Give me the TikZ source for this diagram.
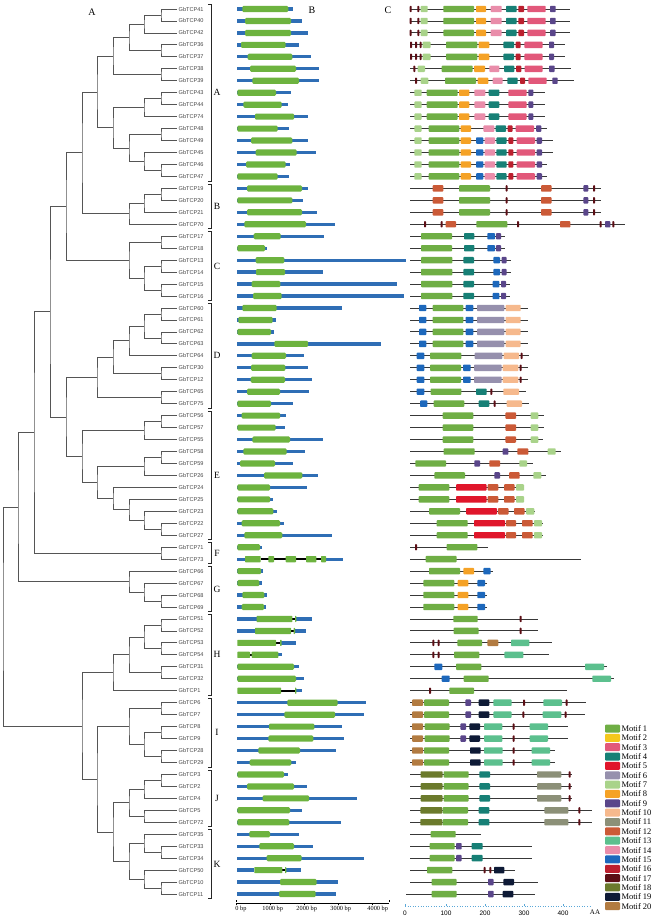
\documentclass[tikz,border=0pt]{standalone}
\usepackage{fontspec}
\setmainfont{Liberation Serif}
\setsansfont{Liberation Sans}
\usetikzlibrary{calc}
\definecolor{m1}{HTML}{6FAE45}
\definecolor{m2}{HTML}{F4C81C}
\definecolor{m3}{HTML}{E2587A}
\definecolor{m4}{HTML}{178076}
\definecolor{m5}{HTML}{E0162B}
\definecolor{m6}{HTML}{9690AD}
\definecolor{m7}{HTML}{A9D38A}
\definecolor{m8}{HTML}{F5A226}
\definecolor{m9}{HTML}{5A468A}
\definecolor{m10}{HTML}{F6B98D}
\definecolor{m11}{HTML}{8C9078}
\definecolor{m12}{HTML}{CB5A37}
\definecolor{m13}{HTML}{5CC08E}
\definecolor{m14}{HTML}{E98DAA}
\definecolor{m15}{HTML}{1D68BC}
\definecolor{m16}{HTML}{BC1F2E}
\definecolor{m17}{HTML}{5C0E15}
\definecolor{m18}{HTML}{6B7A2C}
\definecolor{m19}{HTML}{0E1A36}
\definecolor{m20}{HTML}{B27B41}
\definecolor{gcol}{HTML}{6DB33F}
\definecolor{bcol}{HTML}{2F6EB5}
\definecolor{tcol}{HTML}{555555}
\definecolor{axc}{HTML}{5BA8D8}
\tikzset{
  tree/.style={draw=tcol, line width=0.8pt},
  lab/.style={font=\sffamily\fontsize{5.6}{6}\selectfont, text=black!72, anchor=west, inner sep=0.5pt},
  brk/.style={draw=black!85, line width=0.8pt},
  grpl/.style={font=\fontsize{9.5}{10}\selectfont, inner sep=0pt},
  panel/.style={font=\fontsize{10}{11}\selectfont, inner sep=0pt},
  bline/.style={draw=bcol, line width=3.3pt},
  kline/.style={draw=black, line width=1.6pt},
  mline/.style={draw=black!78, line width=0.9pt},
  legt/.style={font=\fontsize{8.5}{9}\selectfont, anchor=west, inner sep=0.3pt},
  axlab/.style={font=\fontsize{6.3}{7}\selectfont, inner sep=0pt},
  aalab/.style={font=\sffamily\fontsize{6.5}{7}\selectfont, inner sep=0pt},
}
\newcommand\tj[4]{\coordinate (tx) at (#2,0); \coordinate (tm) at ($(#3)!0.5!(#4)$); \coordinate (#1) at (tm -| tx); \draw[tree] (#3) -| (#1) |- (#4);}
\newcommand\grp[4]{\draw[brk] (208,{ry(#2)-4.5}) -- (211,{ry(#2)-4.5}) -- (211,{ry(#3)+4.5}) -- (208,{ry(#3)+4.5}); \node[grpl] (grp#1) at (217,{(ry(#2)+ry(#3))/2}) {#4};}
\newcommand\grow[4]{\draw[bline] ({225+37/3},{ry(#1)}) -- ({225+#2/3},{ry(#1)}); \fill[gcol, rounded corners=1.2pt] ({225+#3/3},{ry(#1)-3.1}) rectangle ({225+#4/3},{ry(#1)+3.1});}
\newcommand\bseg[3]{\draw[bline] ({225+#2/3},{ry(#1)}) -- ({225+#3/3},{ry(#1)});}
\newcommand\kseg[3]{\draw[kline] ({225+#2/3},{ry(#1)}) -- ({225+#3/3},{ry(#1)});}
\newcommand\gseg[3]{\fill[gcol, rounded corners=0.6pt] ({225+#2/3},{ry(#1)-3.1}) rectangle ({225+#3/3},{ry(#1)+3.1});}
\newcommand\mrow[3]{\draw[mline] (410,{ry(#1)}) -- ({400+#2/3},{ry(#1)}); \foreach \m/\s/\e in {#3}{\fill[m\m, rounded corners=0.8pt] ({400+\s/3},{ry(#1)-3.2}) rectangle ({400+\e/3},{ry(#1)+3.2});}}
\begin{document}
\begin{tikzpicture}[x=1pt,y=-1pt, declare function={ry(\i)=9+11.96*\i;}]
\useasboundingbox (0,0) rectangle (654,919);
\fill[white] (0,0) rectangle (654,919);
% panel letters
\node[panel] (pA) at (92,12) {A};
\node[panel] (pB) at (312,10) {B};
\node[panel] (pC) at (388,10) {C};
% leaves
\foreach \g [count=\i from 0] in {41,40,42,36,37,38,39,43,44,74,48,49,45,46,47,19,20,21,70,17,18,13,14,15,16,60,61,62,63,64,30,12,65,75,56,57,55,58,59,26,24,25,23,22,27,71,73,66,67,68,69,51,52,53,54,31,32,1,6,7,8,9,28,29,3,2,4,5,72,35,33,34,50,10,11}{
  \coordinate (L\g) at (177,{ry(\i)});
  \node[lab] (lab\g) at (178,{ry(\i)}) {GbTCP\g};
}
% tree
\tj{a1}{161}{L41}{L40}
\tj{a2}{144}{a1}{L42}
\tj{a3}{161}{L36}{L37}
\tj{a4}{129}{a2}{a3}
\tj{a5}{161}{L38}{L39}
\tj{a6}{113}{a4}{a5}
\tj{a7}{161}{L43}{L44}
\tj{a8}{144}{a7}{L74}
\tj{a9}{161}{L48}{L49}
\tj{a10}{161}{L46}{L47}
\tj{a11}{144}{L45}{a10}
\tj{a12}{129}{a9}{a11}
\tj{a13}{113}{a8}{a12}
\tj{cA}{97}{a6}{a13}
\tj{b1}{161}{L19}{L20}
\tj{b2}{144}{b1}{L21}
\tj{cB}{129}{b2}{L70}
\tj{cAB}{82}{cA}{cB}
\tj{c1}{161}{L17}{L18}
\tj{c2}{161}{L13}{L14}
\tj{c3}{161}{L15}{L16}
\tj{c4}{144}{c2}{c3}
\tj{cC}{129}{c1}{c4}
\tj{cABC}{66}{cAB}{cC}
\tj{d1}{161}{L60}{L61}
\tj{d2}{161}{L62}{L63}
\tj{d3}{144}{d1}{d2}
\tj{d4}{129}{d3}{L64}
\tj{d5}{161}{L30}{L12}
\tj{d6}{113}{d4}{d5}
\tj{d7}{161}{L65}{L75}
\tj{cD}{97}{d6}{d7}
\tj{e1}{161}{L56}{L57}
\tj{e2}{144}{e1}{L55}
\tj{e3}{161}{L58}{L59}
\tj{e4}{144}{e3}{L26}
\tj{e5}{161}{L22}{L27}
\tj{e6}{144}{L23}{e5}
\tj{e7}{129}{L25}{e6}
\tj{e8}{113}{L24}{e7}
\tj{e9}{97}{e4}{e8}
\tj{cE}{82}{e2}{e9}
\tj{cDE}{66}{cD}{cE}
\tj{n1}{50}{cABC}{cDE}
\tj{cF}{161}{L71}{L73}
\tj{n2}{34}{n1}{cF}
\tj{g1}{161}{L68}{L69}
\tj{g2}{144}{L67}{g1}
\tj{cG}{129}{L66}{g2}
\tj{n3}{18}{n2}{cG}
\tj{h1}{161}{L51}{L52}
\tj{h2}{161}{L53}{L54}
\tj{h3}{144}{h1}{h2}
\tj{h4}{161}{L31}{L32}
\tj{h5}{129}{h3}{h4}
\tj{cH}{113}{h5}{L1}
\tj{i1}{161}{L6}{L7}
\tj{i2}{161}{L8}{L9}
\tj{i3}{161}{L28}{L29}
\tj{i4}{144}{i2}{i3}
\tj{cI}{129}{i1}{i4}
\tj{j1}{161}{L3}{L2}
\tj{j2}{144}{j1}{L4}
\tj{j3}{144}{L5}{L72}
\tj{cJ}{129}{j2}{j3}
\tj{k1}{161}{L33}{L34}
\tj{k2}{144}{L35}{k1}
\tj{k3}{161}{L10}{L11}
\tj{k4}{144}{L50}{k3}
\tj{cK}{129}{k2}{k4}
\tj{cJK}{113}{cJ}{cK}
\tj{cIJK}{97}{cI}{cJK}
\tj{cHIJK}{82}{cH}{cIJK}
\tj{root}{3}{n3}{cHIJK}
% group brackets
\grp{A}{0}{14}{A}
\grp{B}{15}{18}{B}
\grp{C}{19}{24}{C}
\grp{D}{25}{33}{D}
\grp{E}{34}{44}{E}
\grp{F}{45}{46}{F}
\grp{G}{47}{50}{G}
\grp{H}{51}{57}{H}
\grp{I}{58}{63}{I}
\grp{J}{64}{68}{J}
\grp{K}{69}{74}{K}
% gene structures
\foreach \r/\be/\gs/\ge in {0/205/52/190,1/230/60/198,2/250/60/198,3/222/48/182,4/258/68/202,5/282/75/213,6/283/82/222,7/198/37/153,8/188/55/170,9/250/90/207,10/191/37/158,11/248/78/202,12/272/92/215,13/195/63/182,14/192/37/158,15/249/66/231,16/233/37/202,17/277/66/231,18/331/58/243,19/296/86/167,20/127/37/120,21/542/92/178,22/293/93/180,23/516/80/166,24/537/84/170,25/350/52/155,26/152/40/143,27/147/37/138,28/468/148/249,29/237/80/183,30/248/78/181,31/260/77/180,32/252/66/165,33/205/37/138,34/182/50/165,35/179/37/152,36/295/82/195,37/240/55/185,38/203/45/150,39/280/117/232,40/245/37/135,41/145/37/135,42/155/37/145,43/177/50/165,44/321/58/172,45/110/37/105,47/115/37/108,48/110/37/103,49/125/52/118,50/123/50/117,55/222/37/207,56/236/37/213,58/422/187/338,59/418/178/330,60/351/132/268,61/356/130/265,62/332/100/225,63/213/74/199,64/189/37/177,65/245/66/207,66/395/113/252,67/232/37/195,68/348/37/193,69/221/73/135,70/264/103/207,71/416/125/230,73/338/165/275,74/333/162/272}{\grow{\r}{\be}{\gs}{\ge}}
% special rows with introns
\kseg{46}{107}{288}\bseg{46}{37}{60}\bseg{46}{303}{354}
\gseg{46}{60}{107}\gseg{46}{130}{147}\gseg{46}{182}{213}\gseg{46}{243}{274}\gseg{46}{288}{303}
\bseg{51}{37}{95}\bseg{51}{212}{261}\kseg{51}{202}{212}\gseg{51}{95}{202}\gseg{51}{210}{214}
\bseg{52}{37}{90}\bseg{52}{207}{242}\kseg{52}{198}{207}\gseg{52}{90}{198}\gseg{52}{206}{210}
\bseg{53}{165}{213}\kseg{53}{153}{165}\gseg{53}{37}{153}\gseg{53}{165}{170}
\bseg{54}{160}{172}\kseg{54}{75}{80}\gseg{54}{37}{75}\gseg{54}{80}{160}
\bseg{57}{212}{230}\kseg{57}{168}{212}\gseg{57}{37}{168}\gseg{57}{210}{214}
\bseg{72}{37}{88}\bseg{72}{182}{227}\kseg{72}{172}{182}\gseg{72}{88}{172}\gseg{72}{180}{184}
% bp axis
\draw[black, line width=0.7pt] (236,903) -- (389,903);
\draw[black, line width=0.5pt] (236,900) -- (236,901.5) (389,900) -- (389,901.5);
\foreach \k in {0,1,2,3,4}{\draw[black, line width=0.5pt] ({236+34*\k},903) -- ({236+34*\k},905);}
\node[axlab] (bp0) at (241,908.5) {0 bp};
\node[axlab] (bp1) at (272.7,908.5) {1000 bp};
\node[axlab] (bp2) at (306.7,908.5) {2000 bp};
\node[axlab] (bp3) at (340.7,908.5) {3000 bp};
\node[axlab] (bp4) at (377.7,908.5) {4000 bp};
% motifs
\foreach \r in {0,1,2}{\mrow{\r}{510}{17/29/35,17/52/58,7/62/83,1/130/222,8/228/258,14/272/305,4/318/350,16/355/372,3/382/437,9/450/467}}
\foreach \r in {3,4}{\mrow{\r}{495}{17/30/36,17/45/51,17/59/65,7/68/92,1/138/232,8/236/268,4/310/342,16/347/362,3/373/428,9/447/462}}
\mrow{5}{512}{17/40/46,7/53/75,1/125/218,8/222/255,14/268/298,4/312/343,16/348/364,3/374/428,9/447/464}
\mrow{6}{522}{17/45/51,7/62/85,1/135/228,8/233/265,14/278/308,4/322/353,16/360/375,3/385/440,9/457/473}
\foreach \r in {7,8,9}{\mrow{\r}{435}{7/43/65,1/80/173,8/177/208,14/223/256,4/266/298,3/325/380,9/385/400}}
\mrow{10}{442}{7/43/65,1/86/178,8/182/213,14/250/283,4/287/318,16/323/338,3/347/402,9/408/424}
\foreach \r in {11,12}{\mrow{\r}{460}{7/43/65,1/86/178,8/182/213,15/228/250,14/254/285,4/289/320,16/325/340,3/350/405,9/410/426}}
\foreach \r in {13,14}{\mrow{\r}{442}{7/43/65,1/86/178,8/182/213,15/228/250,14/254/285,4/289/320,16/325/340,3/350/405,9/410/426}}
\foreach \r in {15,16,17}{\mrow{\r}{604}{12/98/130,1/177/270,17/317/323,12/423/455,9/550/565,17/579/585}}
\mrow{18}{676}{17/72/78,17/122/128,12/137/168,1/229/322,17/351/357,12/480/511,17/599/605,9/615/631,17/637/643}
\foreach \r in {19,20}{\mrow{\r}{316}{1/63/156,4/192/223,15/262/285,9/288/303}}
\foreach \r in {21,22}{\mrow{\r}{333}{1/63/157,4/190/222,15/280/300,9/305/320}}
\foreach \r in {23,24}{\mrow{\r}{330}{1/63/157,4/190/222,15/278/298,9/303/318}}
\foreach \r in {25,26,27,28}{\mrow{\r}{383}{15/57/79,1/98/190,15/197/220,6/231/313,10/317/362}}
\mrow{29}{388}{15/50/73,1/90/184,6/224/307,10/311/357,17/362/368}
\foreach \r in {30,31}{\mrow{\r}{383}{15/50/73,1/90/183,15/189/212,6/222/305,10/308/355,17/359/365}}
\mrow{32}{377}{15/50/73,1/92/184,4/228/260,17/271/277,10/310/357}
\mrow{33}{386}{15/60/82,1/101/193,4/236/268,17/281/287,10/320/366}
\foreach \r in {34,35}{\mrow{\r}{432}{1/128/220,12/316/348,7/392/415}}
\mrow{36}{428}{1/128/220,12/316/348,7/392/415}
\mrow{37}{483}{1/131/224,9/308/325,12/352/385,7/443/467}
\mrow{38}{398}{1/46/138,9/223/240,12/268/300,7/358/381}
\mrow{39}{437}{1/103/195,9/283/300,12/327/359,7/400/424}
\foreach \r in {40,41}{\mrow{\r}{373}{1/56/148,5/168/260,12/263/295,12/312/344,7/348/372}}
\mrow{42}{405}{1/87/180,5/198/291,12/294/326,12/342/374,7/378/403}
\foreach \r in {43,44}{\mrow{\r}{428}{1/110/203,5/222/315,12/318/348,12/366/398,7/402/426}}
\mrow{45}{265}{17/45/51,1/140/232}
\mrow{46}{542}{1/77/170}
\mrow{47}{278}{1/87/180,8/190/222,15/250/272}
\foreach \r in {48,49,50}{\mrow{\r}{262}{1/70/163,8/173/205,15/232/255}}
\mrow{51}{413}{1/160/233,17/359/365}
\mrow{52}{413}{1/161/236,17/359/365}
\mrow{53}{455}{17/97/103,17/113/119,1/172/246,20/262/295,13/333/388}
\mrow{54}{448}{17/97/103,17/113/119,1/162/238,13/313/370}
\mrow{55}{620}{15/103/127,1/168/244,13/555/612}
\mrow{56}{643}{15/125/149,1/191/266,13/577/633}
\mrow{57}{500}{17/87/93,1/148/222}
\mrow{58}{558}{20/36/69,1/72/147,9/196/213,19/236/268,13/280/335,17/369/375,13/430/486,17/497/503}
\mrow{59}{556}{20/36/69,1/72/147,9/196/213,19/236/268,13/280/335,17/367/373,13/428/484,17/494/500}
\foreach \r in {60,61}{\mrow{\r}{503}{20/36/69,1/74/149,9/181/198,19/208/240,13/252/307,17/338/344,13/389/444}}
\foreach \r in {62,63}{\mrow{\r}{465}{20/36/69,1/72/147,19/210/242,13/252/308,17/338/344,13/395/450}}
\foreach \r in {64,65,66}{\mrow{\r}{515}{18/62/128,1/131/206,4/238/270,11/411/484,17/506/512}}
\foreach \r in {67,68}{\mrow{\r}{575}{18/61/127,1/128/204,4/236/268,11/433/505,17/535/541}}
\mrow{69}{244}{1/92/167}
\mrow{70}{395}{1/89/164,9/168/185,4/215/248}
\mrow{71}{397}{1/89/164,9/168/185,4/215/248}
\mrow{72}{345}{1/81/157,17/251/257,17/268/274,19/282/313}
\mrow{73}{415}{1/95/170,9/264/281,19/310/342}
\draw[mline] (406,{ry(74)}) -- (410,{ry(74)});
\mrow{74}{405}{1/95/170,9/264/281,19/308/340}
% AA axis
\draw[axc, line width=0.6pt, dotted] (405,906) -- (592,906);
\foreach \v/\xx in {0/405,100/446,200/485,300/524,400/563}{
  \draw[axc, line width=0.6pt] (\xx,906) -- (\xx,904);
  \node[aalab] (aa\v) at (\xx,913.5) {\v};
}
\node[font=\fontsize{7}{8}\selectfont, inner sep=0pt] (aaunit) at (595,912.5) {AA};
% legend
\foreach \k in {1,...,20}{
  \fill[m\k, rounded corners=1pt] (605,{728.5+9.35*(\k-1)-4}) rectangle (620,{728.5+9.35*(\k-1)+4});
  \node[legt] (leg\k) at (621,{728.5+9.35*(\k-1)}) {Motif \k};
}
\end{tikzpicture}
\end{document}
